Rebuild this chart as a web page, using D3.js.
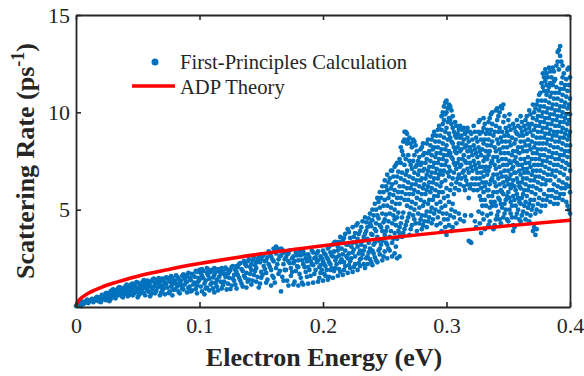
<!DOCTYPE html>
<html><head><meta charset="utf-8">
<script src="https://cdn.jsdelivr.net/npm/d3@7/dist/d3.min.js"></script>
<style>body{margin:0;background:#fff}svg{display:block}</style>
</head><body>
<svg id="chart" width="584" height="376"></svg>
<script>
const xTicks = [0, 0.1, 0.2, 0.3, 0.4];
const yTicks = [5, 10, 15];
const xTitle = "Electron Energy (eV)";
const yTitle = "Scattering Rate (ps";
const legendLabels = ["First-Principles Calculation", "ADP Theory"];

// ADP theory curve
const adpEnergy = [0, 0.0005, 0.001, 0.0025, 0.005, 0.01, 0.02, 0.03, 0.05, 0.075, 0.1, 0.15, 0.2, 0.25, 0.3, 0.35, 0.4];
const adpRate   = [0, 0.16, 0.22, 0.35, 0.50, 0.71, 1.00, 1.22, 1.58, 1.93, 2.23, 2.73, 3.15, 3.53, 3.86, 4.17, 4.46];

// First-principles scattering rates: each row = [energy, rate, rate, ...]
const calcRowsA = [
[0.000,0.05],[0.002,0.1],[0.004,0.2,0.05],[0.006,0.15],[0.008,0.3],[0.010,0.2],[0.012,0.35],[0.014,0.25],[0.016,0.45],[0.018,0.3],
[0.020,0.5,0.25],[0.022,0.4,0.6],[0.024,0.7,0.35],[0.026,0.55],[0.028,0.8,0.4],[0.030,0.65,0.9],[0.032,0.45,0.8],[0.034,0.95,0.6],[0.036,0.75,1.0],[0.038,0.5,0.85],
[0.040,1.05,0.7],[0.042,0.9,0.55],[0.044,1.1,0.8],[0.046,0.6,1.2,0.95],[0.048,1.05,0.75],[0.050,1.25,0.9,0.5],[0.052,1.1,0.7],[0.054,1.3,0.95],[0.056,0.6,1.15],[0.058,1.35,0.85],
[0.060,1.05,0.55,1.25],[0.062,1.4,0.9],[0.064,0.7,1.2],[0.066,1.0,1.4],[0.068,0.6,1.3],[0.070,1.1,0.85,1.45],[0.072,1.25,0.65],[0.074,1.5,1.0],[0.076,0.8,1.3],[0.078,1.15,0.6,1.5],
[0.080,1.35,0.9],[0.082,1.55,1.05],[0.084,0.7,1.25],[0.086,1.6,0.95],[0.088,1.15,1.45],[0.090,0.75,1.3,1.65],[0.092,1.05,1.5],[0.094,1.7,0.85],[0.096,1.25,1.55],[0.098,0.7,1.8,1.1],
[0.100,1.4,1.9],[0.102,0.8,1.6,1.95],[0.104,1.2,0.65],[0.106,1.75,2.0,1.0],[0.108,1.45,0.85],[0.110,1.9,1.25],[0.112,0.75,1.65,2.0],[0.114,1.4,1.05],[0.116,1.85,1.55],[0.118,0.95,2.0],
[0.120,1.3,1.7],[0.122,1.95,0.9],[0.124,1.5,1.8],[0.126,1.1,2.05],[0.128,1.65,1.35],[0.130,2.1,0.95,1.8],[0.132,1.5,2.2],[0.134,1.2,1.95],[0.136,2.35,1.6],[0.138,1.0,2.1,1.75],
[0.140,2.45,1.4],[0.142,1.9,2.2,1.15],[0.144,2.55,1.65],[0.146,1.3,2.3,2.0],[0.148,2.6,1.0],[0.150,1.8,2.45,1.5],[0.152,2.7,2.1],[0.154,1.25,2.4,1.75],[0.156,2.85,2.2],[0.158,1.1,2.6,1.9],
[0.160,3.0,2.35,1.5],[0.162,3.1,2.75,2.0],[0.164,2.9,1.7,2.45],[0.166,0.8,2.65,3.0],[0.168,2.2,1.35,2.8],[0.170,2.55,1.9],[0.172,1.1,2.35,2.75],[0.174,2.0,1.6],[0.176,2.6,1.15,2.25],[0.178,1.85,2.8],
[0.180,1.1,2.4,2.05],[0.182,2.65,1.5],[0.184,1.15,2.2,2.85],[0.186,1.8,2.5],[0.188,1.2,2.7,2.05],[0.190,2.35,1.6],[0.192,1.25,2.8,2.15],[0.194,1.9,2.55],[0.196,1.3,2.4,2.85],[0.198,1.75,2.6,2.15],
[0.200,1.35,2.9,2.35],[0.202,1.6,2.7,2.1],[0.204,1.4,3.0,2.45],[0.206,1.9,2.8,2.2],[0.208,1.5,3.2,2.6],[0.210,2.0,3.35,2.4],[0.212,1.6,2.9,3.1],[0.214,2.3,3.6,1.8],[0.216,2.7,3.4,1.65],[0.218,2.1,3.75,2.9],
[0.220,1.75,3.2,2.5,4.0],[0.222,2.35,3.55,2.0],[0.224,1.8,2.8,4.1,3.3],[0.226,2.6,3.8,2.2],[0.228,1.9,3.1,4.3,3.5],[0.230,2.45,3.9,2.1,2.9],[0.232,3.4,4.4,2.7],[0.234,2.0,3.75,4.6,3.1],[0.236,2.6,4.1,3.5,2.2],[0.238,4.8,3.0,4.3,2.45],
[0.240,2.15,3.7,5.0,4.45,2.9],[0.242,3.3,5.3,4.0,2.55],[0.244,2.3,4.7,5.6,3.6],[0.246,3.0,4.2,5.1,2.7,5.9],[0.248,2.4,3.9,4.8,6.2,3.4],[0.250,4.5,5.5,2.85,6.5,3.7],[0.252,2.5,4.1,5.2,6.0,3.2,6.8],[0.254,3.6,4.8,5.8,6.6,2.9],[0.256,4.3,5.4,6.3,7.0,3.3,2.6],[0.258,3.8,5.0,6.0,7.2,4.5,2.75],
[0.260,3.5,4.6,5.6,6.7,7.4,2.5],[0.262,4.1,5.3,6.2,7.6,3.8,2.6],[0.264,4.6,5.9,6.9,8.0,3.6],[0.266,4.0,5.5,6.5,7.3,8.6,9.0],[0.268,4.4,5.2,6.1,7.0,8.4,8.9],[0.270,3.7,4.8,5.8,6.7,7.5,8.7],[0.272,4.2,5.4,6.3,7.1,8.2],[0.274,4.5,5.0,6.0,6.9,7.8,8.5],[0.276,3.9,5.6,6.5,7.3,8.0],[0.278,4.3,5.1,6.2,7.0,7.7],
[0.280,4.7,5.8,6.6,7.4,8.2,4.0],[0.282,4.4,5.4,6.3,7.1,7.9],[0.284,4.9,6.0,6.8,7.6,8.4,4.1],[0.286,4.6,5.5,6.4,7.2,8.0],[0.288,5.1,6.1,6.9,7.8,8.6,4.3],[0.290,4.8,5.7,6.6,7.4,8.2,9.0],[0.292,4.2,5.3,6.3,7.1,7.9,8.8],[0.294,4.9,5.9,6.8,7.6,8.5,9.3],[0.296,3.9,5.1,6.4,7.3,8.1,9.1,9.8],[0.298,4.5,5.6,7.0,7.8,8.7,9.6,10.3],
[0.300,3.7,4.8,6.1,7.5,8.3,9.2,10.0,10.6],[0.302,4.2,5.4,6.7,7.2,8.0,8.9,9.7,10.4],[0.304,3.9,5.0,6.3,7.7,8.5,9.4,10.1],[0.306,4.6,5.8,6.9,7.4,8.2,9.0],[0.308,4.3,6.4,7.1,7.9,8.7,9.3],[0.310,4.8,6.0,6.8,7.6,8.4,9.1],[0.312,6.6,7.3,8.1,8.8],[0.314,4.4,6.2,7.0,7.8,8.6,9.2],[0.316,6.5,7.4,8.3,9.0],[0.318,3.4,5.6,6.9,7.7,8.5],
[0.320,3.3,4.7,6.3,7.2,8.0,8.9],[0.322,6.0,7.5,8.3,9.3],[0.324,4.1,6.6,7.1,7.9,8.7],[0.326,4.9,6.3,7.4,8.2,9.0,9.5],[0.328,3.8,5.5,6.1,6.9,7.8,8.6],[0.330,4.5,5.9,6.7,7.5,8.4,9.2,9.7],[0.332,5.2,6.4,7.2,8.0,8.9],[0.334,4.2,5.7,6.0,7.0,7.8,8.6,9.5],[0.336,4.8,5.4,6.5,7.4,8.3,9.1,9.9],[0.338,4.0,5.9,6.8,7.7,8.8],
[0.340,4.5,5.2,6.2,7.1,8.0,9.3,10.1],[0.342,4.9,5.6,6.6,7.5,8.4,9.0,9.8],[0.344,4.3,5.3,6.0,6.9,7.9,8.7,10.3],[0.346,4.6,5.8,6.4,7.3,8.2,9.5,10.4],[0.348,5.0,5.5,6.7,7.6,8.5,9.2],[0.350,4.4,5.9,6.3,7.0,7.9,8.8,9.6],[0.352,4.8,5.4,6.1,6.8,7.4,8.3,9.1],[0.354,3.9,4.2,5.7,6.5,7.2,8.0,9.4],[0.356,4.6,5.2,6.0,6.9,7.7,8.6,9.0],[0.358,5.0,5.6,6.4,7.3,8.2,9.3],
[0.360,4.4,5.3,6.1,6.8,7.6,8.5,9.2,9.8],[0.362,4.9,5.8,6.6,7.1,8.0,8.8],[0.364,4.5,5.4,6.3,7.4,8.3,9.1,9.6],[0.366,5.1,6.0,6.9,7.7,8.6,9.4],[0.368,4.7,5.5,6.5,7.2,8.1,9.0,9.9],[0.370,3.9,5.2,6.2,7.0,7.9,8.8,9.7,10.4],[0.372,3.7,4.8,5.8,6.7,7.6,8.4,9.3,10.2],[0.374,5.3,6.4,7.3,8.1,9.0,9.8,10.6],[0.376,4.9,6.0,7.0,7.8,8.7,9.5,10.3,11.0],[0.378,5.5,6.6,7.5,8.4,9.2,10.0,11.3,12.0],
[0.380,5.2,6.3,7.2,8.1,8.9,9.7,10.6,11.6,12.2],[0.382,5.7,6.8,7.7,8.6,9.4,10.2,11.1,11.8],[0.384,5.4,6.5,7.4,8.3,9.1,9.9,10.8,11.5,12.1],[0.386,6.0,7.0,7.9,8.8,9.6,10.4,11.4,12.3],[0.388,5.6,6.7,7.6,8.5,9.3,10.1,11.0,11.7],[0.390,5.3,6.2,7.3,8.2,9.0,9.8,10.7,12.6,13.1],[0.392,5.8,6.9,7.8,8.7,9.5,10.3,11.2,12.9,13.4],[0.394,5.5,6.4,7.5,8.4,9.2,10.0,10.9,11.8,12.4],[0.396,6.1,7.1,8.0,8.9,9.7,10.5,11.4],[0.398,5.2,6.6,7.7,8.6,9.4,10.2,11.1,12.2],
[0.400,4.8,5.9,7.0,8.3,9.0,9.9,10.7,11.8]
];
const calcRowsB = [
[0.001,0.08],[0.003,0.18],[0.005,0.28],[0.007,0.2],[0.009,0.38],[0.011,0.3],[0.013,0.42],[0.015,0.35],[0.017,0.52],[0.019,0.45],
[0.021,0.38,0.62],[0.023,0.55],[0.025,0.48,0.72],[0.027,0.65,0.3],[0.029,0.58,0.85],[0.031,0.75,0.5],[0.033,0.88,0.62],[0.035,0.7,1.02],[0.037,0.55,0.9],[0.039,0.98,0.68],
[0.041,0.78,1.15],[0.043,0.62,1.0],[0.045,0.88,1.18],[0.047,1.08,0.7],[0.049,0.82,1.28],[0.051,1.0,0.62],[0.053,1.2,0.85],[0.055,0.72,1.05,1.38],[0.057,0.95,1.25],[0.059,1.12,0.78],
[0.061,1.32,0.68],[0.063,1.05,1.45],[0.065,0.82,1.25],[0.067,1.15,1.48],[0.069,0.75,1.02],[0.071,1.35,0.95],[0.073,1.18,1.52],[0.075,0.72,1.4],[0.077,1.05,1.58],[0.079,0.88,1.3],
[0.081,1.2,1.62],[0.083,0.8,1.45],[0.085,1.12,1.35],[0.087,0.9,1.68],[0.089,1.28,1.55],[0.091,0.98,1.75],[0.093,1.38,0.8],[0.095,1.62,1.15],[0.097,0.92,1.85],[0.099,1.5,1.3],
[0.101,1.75,1.05],[0.103,1.48,1.85],[0.105,0.95,1.35],[0.107,1.62,1.92],[0.109,1.15,1.8],[0.111,1.52,0.95],[0.113,1.78,1.22],[0.115,1.95,0.85],[0.117,1.3,1.7],[0.119,1.82,1.12],
[0.121,1.55,2.02],[0.123,1.2,1.72],[0.125,1.9,0.92],[0.127,1.45,2.1],[0.129,1.9,1.15],[0.131,1.65,2.05],[0.133,1.35,2.25],[0.135,1.85,1.05],[0.137,2.2,1.5],[0.139,1.3,2.35],
[0.141,2.05,1.7],[0.143,2.4,1.35],[0.145,1.85,2.15],[0.147,1.55,2.45],[0.149,2.3,1.2],[0.151,1.65,2.6],[0.153,1.95,2.35],[0.155,2.55,1.4],[0.157,2.05,2.75],[0.159,1.6,2.45],
[0.161,2.85,1.25],[0.163,2.2,3.0],[0.165,2.6,1.85],[0.167,2.95,1.55],[0.169,2.45,1.9],[0.171,2.7,1.35],[0.173,2.25,2.9],[0.175,1.8,2.5],[0.177,2.35,1.3],[0.179,2.1,2.65],
[0.181,1.7,2.85],[0.183,2.4,1.25],[0.185,2.05,2.7],[0.187,1.55,2.35],[0.189,2.55,1.9],[0.191,2.2,2.9],[0.193,1.7,2.5],[0.195,2.3,2.75],[0.197,1.5,2.05],[0.199,2.5,1.9],
[0.201,2.2,2.75,1.7],[0.203,2.55,1.9],[0.205,2.3,3.1,1.55],[0.207,2.65,2.0],[0.209,2.85,1.85,3.3],[0.211,2.55,2.2],[0.213,3.35,1.95,2.65],[0.215,3.0,2.45],[0.217,1.9,3.55,2.3],[0.219,3.2,2.6],
[0.221,2.15,3.85,2.75],[0.223,3.1,2.5],[0.225,3.6,2.05,2.95],[0.227,4.2,3.3],[0.229,2.25,3.75,2.75],[0.231,4.1,3.2,2.5],[0.233,2.9,3.6,2.2],[0.235,4.35,3.9,2.5],[0.237,3.3,4.55,2.8],[0.239,3.75,2.3,4.15],
[0.241,4.7,3.2,2.75],[0.243,4.3,3.9,5.0,2.4],[0.245,3.4,4.55,2.9,5.4],[0.247,4.1,5.6,3.2],[0.249,4.35,5.2,2.6,5.9],[0.251,3.3,4.75,6.2,3.9],[0.253,4.4,5.6,3.0,6.4],[0.255,3.9,5.1,6.1,7.0],[0.257,4.7,5.75,3.5,6.7],[0.259,4.2,5.3,6.4,7.3,3.1],
[0.261,4.85,5.9,6.95,3.9],[0.263,4.3,5.6,6.6,7.4,8.2],[0.265,4.85,6.2,7.8,8.5,3.8],[0.267,4.2,5.8,6.8,7.6,9.0],[0.269,4.6,5.5,6.4,7.8,8.6],[0.271,4.0,5.1,6.1,7.3,8.4],[0.273,4.7,5.8,6.6,7.5,8.6],[0.275,4.3,5.3,6.3,7.2,8.3],[0.277,4.8,5.9,6.8,7.5],[0.279,4.5,5.5,6.5,7.3,8.1],
[0.281,4.2,5.2,6.1,7.0,7.8,8.4],[0.283,4.7,5.8,6.6,7.4],[0.285,4.4,5.3,6.2,7.0,7.9,8.6],[0.287,4.9,5.9,6.7,7.5,8.3],[0.289,4.5,5.5,6.4,7.2,8.1,8.8],[0.291,5.0,6.0,6.9,7.7,8.5],[0.293,4.6,5.7,6.6,7.4,8.2,9.1],[0.295,4.3,5.4,6.2,7.0,7.9,8.8],[0.297,4.8,5.9,6.8,7.6,8.4,9.4,10.0],[0.299,4.1,5.2,6.5,7.3,8.1,9.0,9.9,10.5],
[0.301,4.5,5.7,6.9,7.8,8.6,9.5,10.2],[0.303,4.7,6.0,7.0,7.9,8.7,9.6,10.3],[0.305,4.1,5.3,6.6,7.6,8.4,9.2,9.8],[0.307,4.9,6.1,7.3,8.0,8.8,9.5],[0.309,6.6,7.4,8.2,8.9],[0.311,4.5,6.3,7.2,8.0,8.7,9.3],[0.313,6.9,7.6,8.4,9.1],[0.315,4.7,6.0,6.7,7.5,8.2,8.9],[0.317,6.3,7.1,8.0,8.7,9.2],[0.319,3.35,6.1,7.4,8.2,9.0],
[0.321,6.6,7.0,7.8,8.6],[0.323,4.4,6.3,7.3,8.1,9.0],[0.325,6.0,6.9,7.7,8.5],[0.327,4.3,5.7,6.6,7.2,8.0,8.9,9.6],[0.329,4.8,5.2,6.4,7.2,8.1,9.0],[0.331,4.0,5.5,6.2,7.0,7.7,8.6,9.4],[0.333,4.7,6.0,6.8,7.6,8.3,9.1],[0.335,4.4,5.1,6.3,7.2,8.0,8.9,9.7],[0.337,5.2,5.7,6.6,7.5,8.5,9.4,10.0],[0.339,4.2,5.4,6.4,7.3,8.2,9.0],
[0.341,4.7,5.9,6.8,7.7,8.6,9.6,10.2],[0.343,4.5,5.5,6.3,7.2,8.1,9.2,10.0],[0.345,5.1,5.9,6.7,7.6,8.5,9.0,10.2],[0.347,4.8,5.3,6.2,7.0,7.9,8.8,9.8],[0.349,4.5,5.7,6.5,7.3,8.2,9.0],[0.351,5.0,5.6,6.6,7.5,8.5,9.3,9.9],[0.353,4.6,5.2,6.3,7.1,7.8,8.7],[0.355,4.1,5.5,6.2,6.9,7.5,8.4,9.2],[0.357,4.8,5.8,6.6,7.4,8.0,8.9,9.6],[0.359,4.5,5.4,6.2,7.0,7.9,8.8],
[0.361,4.7,5.6,6.4,7.3,8.2,9.0,9.5],[0.363,5.2,6.0,6.9,7.6,8.5,9.3],[0.365,4.8,5.7,6.6,7.1,8.0,8.9,9.8],[0.367,4.4,5.3,6.2,7.4,8.3,9.2,10.1],[0.369,5.0,5.9,6.8,7.6,8.5,9.4],[0.371,4.1,5.5,6.5,7.3,8.2,9.1,10.0],[0.373,4.0,5.0,6.1,7.0,7.9,8.7,9.6,10.4],[0.375,5.6,6.7,7.6,8.4,9.3,10.1,10.9],[0.377,5.2,6.3,7.3,8.1,9.0,9.8,10.6,11.5],[0.379,5.8,6.9,7.8,8.7,9.5,10.3,11.1,11.8],
[0.381,5.5,6.5,7.5,8.4,9.2,10.0,10.9,11.4,12.0],[0.383,6.0,7.1,8.0,8.9,9.7,10.5,11.3,12.3],[0.385,5.7,6.8,7.7,8.6,9.4,10.2,11.0,11.8],[0.387,5.3,6.3,7.3,8.2,9.0,9.9,10.7,11.6,12.1],[0.389,5.9,7.0,7.9,8.8,9.6,10.4,11.3,12.4],[0.391,5.6,6.5,7.6,8.5,9.3,10.1,11.0,12.2,13.2],[0.393,6.1,7.2,8.1,9.0,9.8,10.6,11.5,12.6],[0.395,5.8,6.8,7.8,8.7,9.5,10.3,11.2,12.0],[0.397,5.4,6.3,7.4,8.3,9.1,9.9,10.8,11.7],[0.399,5.0,6.2,7.3,8.0,8.8,9.6,10.4,11.4,12.3]
];

const blue = "#0072BD", red = "#FF0000", ink = "#262626";
const serif = "'Liberation Serif','Times New Roman',Times,serif";

const svg = d3.select("#chart");
const x = d3.scaleLinear().domain([0, 0.4]).range([76, 570]);
const y = d3.scaleLinear().domain([0, 15]).range([307, 15]);

const points = calcRowsA.concat(calcRowsB).flatMap(r => r.slice(1).map(v => ({e: r[0], r: v})));

svg.append("g").selectAll("circle").data(points).join("circle")
  .attr("cx", d => x(d.e)).attr("cy", d => y(d.r)).attr("r", 2.4)
  .attr("fill", blue);

const adp = adpEnergy.map((e, i) => [e, adpRate[i]]);
svg.append("path").datum(adp)
  .attr("d", d3.line().x(d => x(d[0])).y(d => y(d[1])).curve(d3.curveMonotoneX))
  .attr("fill", "none").attr("stroke", red).attr("stroke-width", 3.5);

function styleAxis(g) {
  g.selectAll("path.domain").attr("stroke", ink).attr("stroke-width", 1.8);
  g.selectAll(".tick line").attr("stroke", ink).attr("stroke-width", 1.6);
  g.selectAll("text").attr("fill", ink).attr("font-family", serif).attr("font-size", 22);
}

svg.append("g").attr("transform", "translate(0,307)")
  .call(d3.axisBottom(x).tickValues(xTicks).tickSize(-5).tickSizeOuter(0).tickPadding(10).tickFormat(d3.format("~g")))
  .call(styleAxis);
svg.append("g").attr("transform", "translate(0,15)")
  .call(d3.axisTop(x).tickValues(xTicks).tickSize(-5).tickSizeOuter(0).tickFormat(""))
  .call(styleAxis);
svg.append("g").attr("transform", "translate(76,0)")
  .call(d3.axisLeft(y).tickValues(yTicks).tickSize(-5).tickSizeOuter(0).tickPadding(6))
  .call(styleAxis);
svg.append("g").attr("transform", "translate(570,0)")
  .call(d3.axisRight(y).tickValues(yTicks).tickSize(-5).tickSizeOuter(0).tickFormat(""))
  .call(styleAxis);

svg.append("text").attr("x", 324).attr("y", 366).attr("text-anchor", "middle")
  .attr("font-family", serif).attr("font-weight", "bold").attr("font-size", 26).attr("fill", ink)
  .text(xTitle);

const yt = svg.append("text").attr("transform", "translate(34,161) rotate(-90)").attr("text-anchor", "middle")
  .attr("font-family", serif).attr("font-weight", "bold").attr("font-size", 26).attr("fill", ink);
yt.append("tspan").text(yTitle);
yt.append("tspan").attr("dy", -10).attr("font-size", 18).text("-1");
yt.append("tspan").attr("dy", 10).text(")");

const lg = svg.append("g");
lg.append("circle").attr("cx", 155).attr("cy", 62).attr("r", 3.5).attr("fill", blue);
lg.append("text").attr("x", 180).attr("y", 69).attr("font-family", serif).attr("font-size", 20.6).attr("fill", ink).text(legendLabels[0]);
lg.append("line").attr("x1", 132).attr("x2", 175).attr("y1", 86).attr("y2", 86).attr("stroke", red).attr("stroke-width", 3.5);
lg.append("text").attr("x", 180).attr("y", 93.5).attr("font-family", serif).attr("font-size", 20.6).attr("fill", ink).text(legendLabels[1]);
</script>
</body></html>
